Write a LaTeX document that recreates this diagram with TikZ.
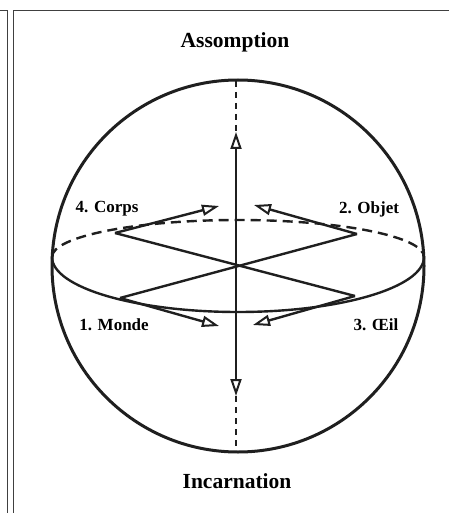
\documentclass[tikz,border=0pt]{standalone}
\usepackage{fontspec}
\setmainfont{Liberation Serif}
\usetikzlibrary{arrows.meta}
\begin{document}
\begin{tikzpicture}[x=1pt,y=-1pt,
  frameline/.style={draw=black!75,line width=0.9pt},
  sphere/.style={line width=3pt,black!88},
  axisline/.style={line width=2.4pt,black!88},
  hiddenline/.style={line width=2.4pt,black!88,dash pattern=on 10pt off 6pt},
  hiddenaxis/.style={line width=2.4pt,black!88,dash pattern=on 6pt off 5pt},
  arrowline/.style={line width=2.4pt,black!88,-{Triangle[open,length=17pt,width=11pt,line width=2pt]}},
  title/.style={font=\bfseries\fontsize{21.5}{25}\selectfont,inner sep=0pt},
  label/.style={font=\bfseries\fontsize{17}{20}\selectfont,inner sep=0pt}]
\useasboundingbox (0,0) rectangle (449,513);
% page frames
\draw[frameline] (0,10) -- (7,10) -- (7,513);
\draw[frameline] (449,10) -- (13,10) -- (13,513);
% sphere
\coordinate (O) at (238,266);
\draw[sphere] (O) circle[radius=186];
% equator
\coordinate (L) at (52,257);
\draw[hiddenline] (L) arc[start angle=180,end angle=360,x radius=186,y radius=37];
\draw[axisline] (L) arc[start angle=180,end angle=0,x radius=186,y radius=55];
% points on the equator
\coordinate (A) at (115,233);
\coordinate (B) at (357,234);
\coordinate (C) at (120,298);
\coordinate (D) at (355,296);
\coordinate (M) at (236,266);
\draw[axisline] (A) -- (D);
\draw[axisline] (B) -- (C);
% vertical axis
\coordinate (Top) at (236,81);
\coordinate (Bot) at (236,451);
\coordinate (Up) at (236,132);
\coordinate (Dn) at (236,396);
\draw[hiddenaxis] (Top) -- (Up);
\draw[hiddenaxis] (Dn) -- (Bot);
\draw[arrowline] (M) -- (Up);
\draw[arrowline] (M) -- (Dn);
% arrows toward the axis
\coordinate (a1) at (219,206);
\coordinate (b1) at (254,205);
\coordinate (c1) at (219,326);
\coordinate (d1) at (253,325);
\draw[arrowline] (A) -- (a1);
\draw[arrowline] (B) -- (b1);
\draw[arrowline] (C) -- (c1);
\draw[arrowline] (D) -- (d1);
% texts
\node[title] (assomption) at (235,42) {Assomption};
\node[title] (incarnation) at (237,481) {Incarnation};
\node[label] (corps) at (107,209) {4. Corps};
\node[label] (objet) at (369,209) {2. Objet};
\node[label] (monde) at (114,325) {1. Monde};
\node[label] (oeil) at (376,325) {3. Œil};
\end{tikzpicture}
\end{document}
